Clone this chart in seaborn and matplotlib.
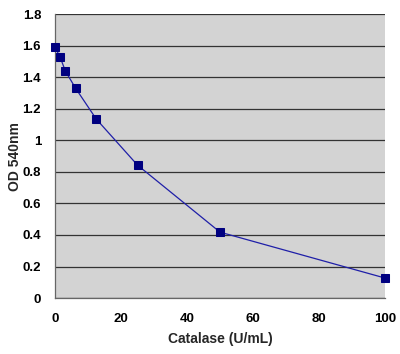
import pandas as pd
import matplotlib
matplotlib.use("Agg")
import matplotlib.pyplot as plt
import seaborn as sns

# Catalase standard curve
catalase = [0, 1.5625, 3.125, 6.25, 12.5, 25, 50, 100]
od540 = [1.59, 1.527, 1.44, 1.33, 1.135, 0.843, 0.418, 0.127]

df = pd.DataFrame({"Catalase": catalase, "OD": od540})

sns.set_theme(style="white")
plt.rcParams["font.family"] = ["Liberation Sans", "DejaVu Sans"]
plt.rcParams["font.weight"] = "bold"

fig = plt.figure(figsize=(4.0, 3.54), dpi=100)
ax = fig.add_axes([0.1375, 0.158, 0.825, 0.802])
ax.set_facecolor("#d3d3d3")

sns.lineplot(data=df, x="Catalase", y="OD", ax=ax, color="#1f1fa8",
             linewidth=0.9, marker="s", markersize=5.5,
             markerfacecolor="#000080", markeredgecolor="#000080",
             clip_on=False, zorder=5)

ax.set_xlim(0, 100)
ax.set_ylim(0, 1.8)
ax.set_xticks([0, 20, 40, 60, 80, 100])
ax.set_yticks([0, 0.2, 0.4, 0.6, 0.8, 1, 1.2, 1.4, 1.6, 1.8])
ax.set_yticklabels(["0", "0.2", "0.4", "0.6", "0.8", "1", "1.2", "1.4", "1.6", "1.8"])
ax.yaxis.grid(True, color="#333333", linewidth=0.9)
ax.set_axisbelow(True)
ax.tick_params(axis="both", direction="out", length=5, width=0.8,
               colors="#444444", labelcolor="black", labelsize=9.5, pad=5)
ax.tick_params(axis="x", pad=6)
for lab in ax.get_xticklabels() + ax.get_yticklabels():
    lab.set_fontweight("bold")

for s in ["top", "right"]:
    ax.spines[s].set_visible(False)
for s in ["left", "bottom"]:
    ax.spines[s].set_color("#666666")
    ax.spines[s].set_linewidth(0.9)

ax.set_xlabel("Catalase (U/mL)", fontsize=10, fontweight="bold")
ax.set_ylabel("OD 540nm", fontsize=10, fontweight="bold")
ax.xaxis.set_label_coords(0.5, -0.12)
ax.yaxis.set_label_coords(-0.10, 0.5)

fig.savefig("out.png", dpi=100)
